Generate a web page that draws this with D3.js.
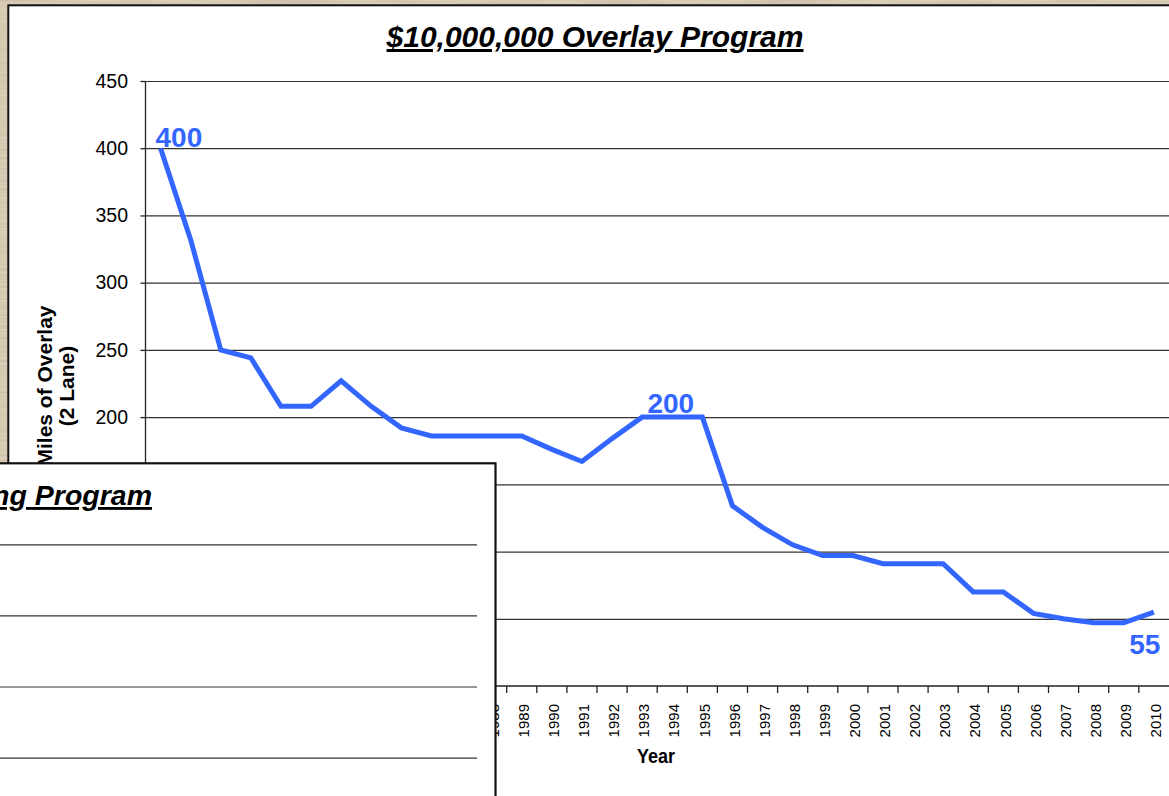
<!DOCTYPE html>
<html>
<head>
<meta charset="utf-8">
<script src="https://cdn.jsdelivr.net/npm/d3@7"></script>
<style>
  html, body { margin: 0; padding: 0; background: #d8cbb3; }
  svg { display: block; font-family: "Liberation Sans", Arial, sans-serif; }
</style>
</head>
<body>
<svg id="chart" width="1169" height="796"></svg>
<script>
// ---- data ----
const years = [1977,1978,1979,1980,1981,1982,1983,1984,1985,1986,1987,1988,1989,1990,1991,1992,1993,1994,1995,1996,1997,1998,1999,2000,2001,2002,2003,2004,2005,2006,2007,2008,2009,2010];
const miles = [400,332,250,244,208,208,227,208,192,186,186,186,186,176,167,184,200,200,200,134,118,105,97,97,91,91,91,70,70,54,50,47,47,55];
const yTicks = [0,50,100,150,200,250,300,350,400,450];
const labelYears = [1977,1994,2010];
const labelValues = [400,200,55];
const titleText = "$10,000,000 Overlay Program";
const yTitleLines = ["Miles of Overlay","(2 Lane)"];
const xTitleText = "Year";
const overlayTitleText = "$2,000,000 Chip Sealing Program";
const overlayTicks = [100,200,300,400];

(function(){
const svg = d3.select("#chart");
const W = 1169, H = 796;
const blue = "#3366ff";

// ---- background paper texture ----
const defs = svg.append("defs");
const f = defs.append("filter").attr("id","paper").attr("x",0).attr("y",0).attr("width","100%").attr("height","100%");
f.append("feTurbulence").attr("type","fractalNoise").attr("baseFrequency","0.012 0.35").attr("numOctaves",3).attr("seed",4);
f.append("feColorMatrix").attr("type","matrix")
  .attr("values","0 0 0 0 0.48  0 0 0 0 0.40  0 0 0 0 0.30  0.9 0 0 0 -0.3");
svg.append("rect").attr("width",W).attr("height",H).attr("fill","#dccfb8");
svg.append("rect").attr("width",W).attr("height",H).attr("filter","url(#paper)");

// ---- main panel ----
svg.append("rect").attr("x",8.3).attr("y",5.3).attr("width",1300).attr("height",1000)
  .attr("fill","#fff").attr("stroke","#111").attr("stroke-width",2);

const plotLeft = 145.5, plotTop = 81, plotBottom = 686;
const bw = 30.1;
const x = d3.scaleBand().domain(years).range([plotLeft, plotLeft + years.length*bw]).padding(0);
const y = d3.scaleLinear().domain([0,450]).range([plotBottom, plotTop]);

// gridlines
const grid = svg.append("g").attr("transform",`translate(${plotLeft},0)`)
  .call(d3.axisLeft(y).tickValues(yTicks.filter(v=>v>0)).tickSize(-(W-plotLeft)).tickFormat(""));
grid.select(".domain").remove();
grid.selectAll("line").attr("stroke","#333").attr("stroke-width",1.2);

// y axis
const ya = svg.append("g").attr("transform",`translate(${plotLeft},0)`)
  .call(d3.axisLeft(y).tickValues(yTicks).tickSize(5).tickPadding(12.5));
ya.select(".domain").attr("stroke","#222").attr("stroke-width",1.3).attr("d",`M0,${plotTop}V${plotBottom}`);
ya.selectAll("line").attr("stroke","#222").attr("stroke-width",1.3);
ya.selectAll("text").attr("font-size","19.5px").attr("fill","#000")
  .attr("font-family","'Liberation Sans', Arial, sans-serif");

// x axis
const xa = svg.append("g").attr("transform",`translate(0,${plotBottom})`)
  .call(d3.axisBottom(x).tickSize(0));
xa.select(".domain").attr("stroke","#222").attr("stroke-width",1.5).attr("d",`M${plotLeft},0H${W}`);
xa.selectAll("text")
  .attr("transform","rotate(-90)")
  .attr("x",-18).attr("y",0).attr("dy","0.48em")
  .attr("text-anchor","end")
  .attr("font-size","15px").attr("fill","#000")
  .attr("font-family","'Liberation Sans', Arial, sans-serif");
// boundary tick marks
svg.append("g").selectAll("line").data(years).join("line")
  .attr("x1",d=>x(d)).attr("x2",d=>x(d))
  .attr("y1",plotBottom).attr("y2",plotBottom+7)
  .attr("stroke","#222").attr("stroke-width",1.3);

// line
const line = d3.line().x((d,i)=>x(years[i])+bw/2).y(d=>y(d));
svg.append("path").datum(miles).attr("d",line)
  .attr("fill","none").attr("stroke",blue).attr("stroke-width",5)
  .attr("stroke-linejoin","miter");

// data labels
const labOff = [[-5,-1.5,"start"],[-1.5,-4,"middle"],[-9,42,"middle"]];
svg.append("g").selectAll("text").data(labelYears).join("text")
  .attr("x",(d,i)=>x(d)+bw/2+labOff[i][0])
  .attr("y",(d,i)=>y(labelValues[i])+labOff[i][1])
  .attr("text-anchor",(d,i)=>labOff[i][2])
  .attr("font-size","28px").attr("font-weight","bold").attr("fill",blue)
  .text((d,i)=>labelValues[i]);

// title
svg.append("text").attr("x",595).attr("y",47).attr("text-anchor","middle")
  .attr("font-size","30px").attr("font-weight","bold").attr("font-style","italic")
  .attr("text-decoration","underline").text(titleText);

// y title
const yt = svg.append("text").attr("transform","translate(52,386) rotate(-90)")
  .attr("text-anchor","middle").attr("font-size","21px").attr("font-weight","bold");
yt.append("tspan").attr("x",0).attr("y",0).text(yTitleLines[0]);
yt.append("tspan").attr("x",0).attr("y",22).text(yTitleLines[1]);

// x title
svg.append("text").attr("x",656).attr("y",763).attr("text-anchor","middle")
  .attr("font-size","20px").attr("font-weight","bold")
  .attr("transform","translate(656,0) scale(0.9,1) translate(-656,0)")
  .text(xTitleText);

// ---- overlapping second chart panel ----
const ov = svg.append("g");
ov.append("rect").attr("x",-20).attr("y",463.3).attr("width",515.5).attr("height",400)
  .attr("fill","#fff").attr("stroke","#111").attr("stroke-width",2.2);
const oy = d3.scaleLinear().domain([0,400]).range([828.7,544.3]);
const og = ov.append("g").attr("transform","translate(477,0)")
  .call(d3.axisLeft(oy).tickValues(overlayTicks).tickSize(500).tickFormat(""));
og.select(".domain").remove();
og.selectAll("line").attr("stroke","#333").attr("stroke-width",1.2);
ov.append("text").attr("x",152).attr("y",505).attr("text-anchor","end")
  .attr("font-size","28.5px").attr("font-weight","bold").attr("font-style","italic")
  .attr("text-decoration","underline").text(overlayTitleText);
})();
</script>
</body>
</html>
